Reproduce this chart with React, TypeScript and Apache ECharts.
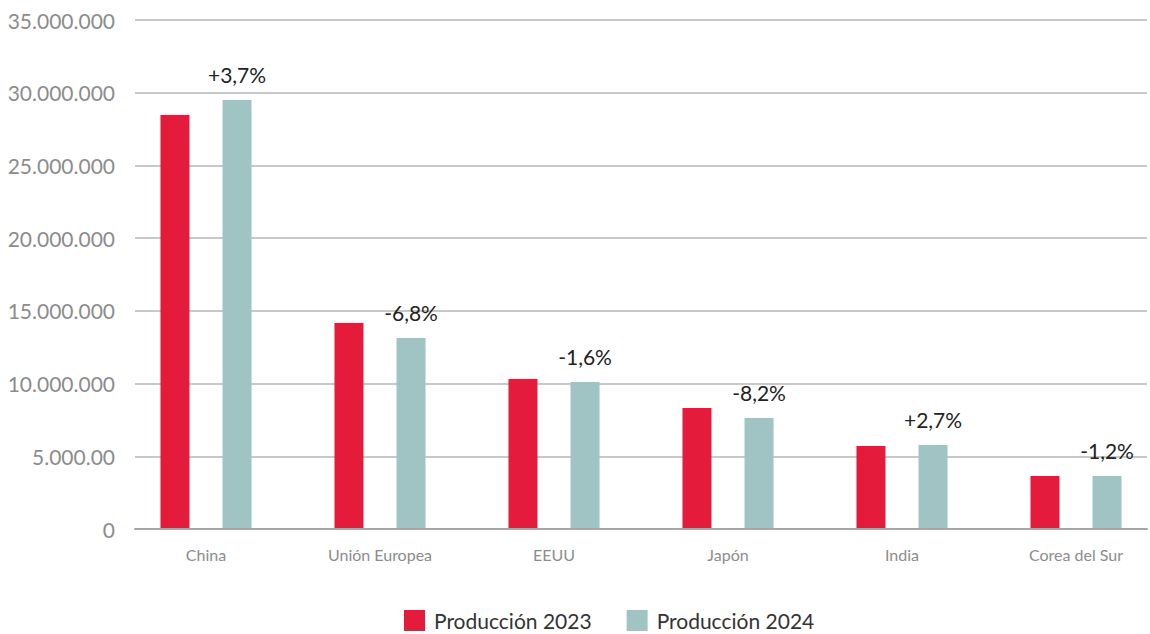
import React, { useEffect, useRef } from "react";
import * as echarts from "echarts";

const categories = ["China", "Unión Europea", "EEUU", "Japón", "India", "Corea del Sur"];
const produccion2023 = [28470000, 14160000, 10310000, 8320000, 5710000, 3640000];
const produccion2024 = [29500000, 13130000, 10110000, 7630000, 5780000, 3640000];
const variacion = ["+3,7%", "-6,8%", "-1,6%", "-8,2%", "+2,7%", "-1,2%"];
const yTickLabels = ["0", "5.000.00", "10.000.000", "15.000.000", "20.000.000", "25.000.000", "30.000.000", "35.000.000"];

const RED = "#e41b3a";
const TEAL = "#9fc4c3";
const FONT = "Lato";
const CHART_W = 1200;

export default function App() {
  const ref = useRef<HTMLDivElement>(null);
  useEffect(() => {
    if (!ref.current) return;
    const chart = echarts.init(ref.current, null, { renderer: "svg" });
    chart.setOption({
      animation: false,
      textStyle: { fontFamily: FONT },
      grid: [
        { left: 135, right: CHART_W - 1147, top: 20, bottom: 105 },
        { left: 119, right: CHART_W - 1163, top: 20, bottom: 105 },
      ],
      legend: {
        top: 610,
        left: 404,
        padding: 0,
        itemWidth: 21,
        itemHeight: 21,
        itemGap: 35,
        icon: "rect",
        textStyle: { fontFamily: FONT, fontSize: 21, lineHeight: 21, color: "#333", padding: [0, 0, 0, 4] },
        data: ["Producción 2023", "Producción 2024"],
      },
      xAxis: [
        {
          type: "category",
          gridIndex: 0,
          data: [""],
          axisLine: { show: true, lineStyle: { color: "#a6a6a6", width: 2 } },
          axisTick: { show: false },
          axisLabel: { show: false },
          splitLine: { show: false },
          z: 5,
        },
        {
          type: "category",
          gridIndex: 1,
          data: categories,
          axisLine: { show: false },
          axisTick: { show: false },
          axisLabel: { color: "#8c8c8c", fontSize: 16, fontFamily: FONT, margin: 17 },
        },
      ],
      yAxis: [
        {
          type: "value",
          gridIndex: 0,
          min: 0,
          max: 35000000,
          interval: 5000000,
          axisLine: { show: false },
          axisTick: { show: false },
          axisLabel: {
            color: "#8c8c8c",
            fontSize: 21,
            fontFamily: FONT,
            margin: 20,
            formatter: (v: number) => yTickLabels[Math.round(v / 5000000)] ?? "",
          },
          splitLine: { lineStyle: { color: "#c8c8cc", width: 2 } },
        },
        {
          type: "value",
          gridIndex: 1,
          min: 0,
          max: 35000000,
          interval: 5000000,
          show: false,
          splitLine: { show: false },
        },
      ],
      series: [
        {
          name: "Producción 2023",
          type: "bar",
          xAxisIndex: 1,
          yAxisIndex: 1,
          data: produccion2023,
          barWidth: 29,
          barGap: "114%",
          itemStyle: { color: RED },
        },
        {
          name: "Producción 2024",
          type: "bar",
          xAxisIndex: 1,
          yAxisIndex: 1,
          data: produccion2024,
          barWidth: 29,
          barGap: "114%",
          itemStyle: { color: TEAL },
          label: {
            show: true,
            position: "top",
            distance: 15,
            fontFamily: FONT,
            fontSize: 21,
            color: "#222",
            formatter: (p: any) => variacion[p.dataIndex],
          },
        },
      ],
    });
    return () => chart.dispose();
  }, []);
  return (
    <div style={{ position: "fixed", left: 0, top: 0, width: 1150, height: 634, overflow: "hidden", background: "#fff" }}>
      <div ref={ref} style={{ width: CHART_W, height: 634 }} />
    </div>
  );
}
